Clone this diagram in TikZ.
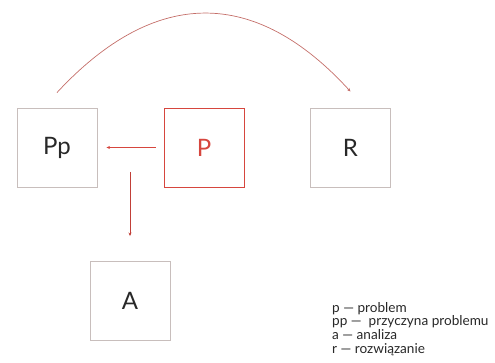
\documentclass[tikz,border=0pt]{standalone}
\usepackage{fontspec}
\setmainfont{Lato}
\usetikzlibrary{arrows.meta}
\definecolor{boxgray}{RGB}{200,190,188}
\definecolor{pred}{RGB}{214,70,62}
\definecolor{arcred}{RGB}{196,110,105}
\definecolor{txt}{RGB}{40,40,40}
\tikzset{
  card/.style={draw=boxgray, line width=0.9pt, minimum width=80pt, minimum height=79pt,
    inner sep=0pt, font=\fontsize{24}{28}\selectfont, text=txt},
  hot/.style={card, draw=pred, text=pred},
  link/.style={-{Stealth[length=3.5pt,width=3pt]}, line width=0.7pt},
}
\begin{document}
\begin{tikzpicture}[x=1pt,y=-1pt]
\useasboundingbox (0,0) rectangle (495,363);
\node[card] (Pp) at (57,147.5) {Pp};
\node[hot]  (P)  at (204,147.5) {P};
\node[card] (R)  at (350.5,147.5) {R};
\node[card] (A)  at (130,301) {A};
\coordinate (split) at (130,172);
% problem -> cause
\draw[link, draw=pred, shorten <=8pt, shorten >=9pt] (P.west) -- (Pp.east);
% cause -> analysis
\draw[link, draw=pred!90!black, shorten >=25pt] (split) -- (A.north);
% cause -> solution
\draw[link, draw=arcred] ([yshift=15pt]Pp.north) .. controls (155,-13) and (255,-13) .. ([yshift=16pt]R.north);
\node[anchor=north west, align=left, text=txt, inner sep=0pt,
  font=\fontsize{13.6}{13.6}\selectfont] (key) at (332,302)
  {p — problem\\pp —\ \ przyczyna problemu\\a — analiza\\r — rozwiązanie};
\end{tikzpicture}
\end{document}
